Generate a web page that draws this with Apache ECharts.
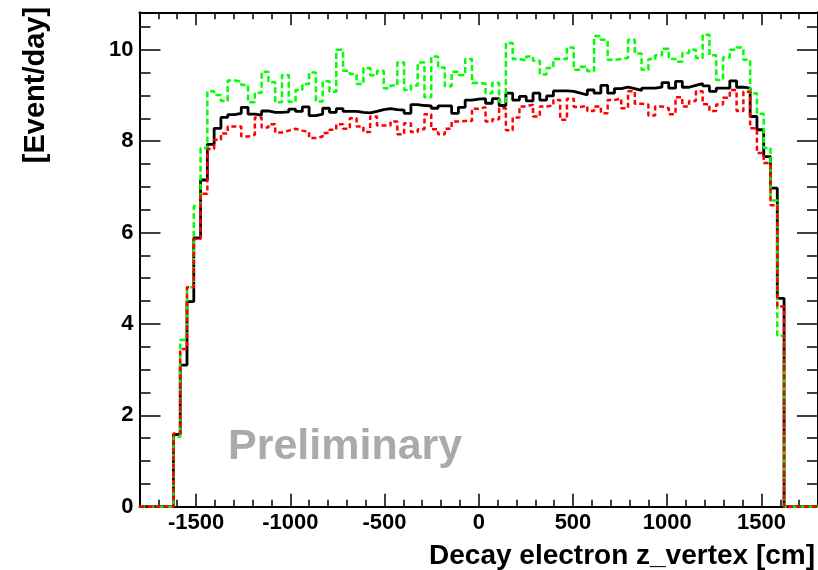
<!DOCTYPE html>
<html>
<head>
<meta charset="utf-8">
<script src="https://cdn.jsdelivr.net/npm/echarts@6/dist/echarts.min.js"></script>
<style>
html,body{margin:0;padding:0;background:#fff;}
#chart{width:818px;height:570px;}
</style>
</head>
<body>
<div id="chart"></div>
<script>
// ---- histogram binning (100 bins of 36 cm from -1800 to 1800) ----
const X_MIN = -1800;
const X_MAX = 1800;
const BIN_WIDTH = 36;
const Y_MIN = 0;
const Y_MAX = 10.82;

// ---- tick labels ----
const X_TICK_LABELS = [-1500, -1000, -500, 0, 500, 1000, 1500];
const Y_TICK_LABELS = [0, 2, 4, 6, 8, 10];

// ---- series values (Event/day per bin) ----
const blackValues = [
  0,0,0,0,0,
  1.58,3.10,4.49,5.88,7.15,
  7.93,8.28,8.52,8.58,8.61,
  8.74,8.59,8.57,8.66,8.63,
  8.63,8.64,8.70,8.65,8.75,
  8.56,8.59,8.72,8.63,8.71,
  8.65,8.65,8.63,8.62,8.65,
  8.69,8.71,8.69,8.68,8.61,
  8.80,8.78,8.77,8.72,8.77,
  8.77,8.61,8.74,8.90,8.92,
  8.93,8.83,8.93,8.78,9.05,
  8.90,8.98,8.88,9.05,8.90,
  8.99,9.10,9.10,9.09,9.05,
  9.01,9.12,9.05,9.22,9.05,
  9.15,9.18,9.15,9.11,9.16,
  9.16,9.18,9.28,9.16,9.31,
  9.18,9.22,9.26,9.21,9.09,
  9.16,9.16,9.32,9.18,9.16,
  8.54,8.25,7.66,6.97,4.56,
  0,0,0,0,0
];
const redValues = [
  0,0,0,0,0,
  1.60,3.45,4.80,5.86,6.85,
  7.83,8.03,8.17,8.32,8.32,
  8.10,8.14,8.52,8.30,8.37,
  8.19,8.23,8.27,8.23,8.20,
  8.07,8.10,8.18,8.25,8.37,
  8.27,8.50,8.32,8.20,8.54,
  8.34,8.34,8.43,8.15,8.39,
  8.20,8.26,8.59,8.26,8.15,
  8.27,8.43,8.44,8.44,8.71,
  8.74,8.43,8.48,8.72,8.24,
  8.52,8.76,8.80,8.54,8.76,
  8.78,8.90,8.47,8.93,8.75,
  8.77,8.66,8.76,8.61,8.90,
  8.93,8.72,9.09,8.82,8.80,
  8.56,8.76,8.72,8.59,8.96,
  8.76,8.88,9.09,8.81,8.66,
  8.80,8.95,9.12,8.66,9.08,
  8.28,7.74,7.52,6.60,4.38,
  0,0,0,0,0
];
const greenValues = [
  0,0,0,0,0,
  1.53,3.65,4.80,6.58,7.85,
  9.09,9.01,8.88,9.33,9.30,
  9.23,8.85,9.06,9.52,9.29,
  8.85,9.45,8.86,9.12,9.25,
  9.50,8.87,9.31,9.08,10.00,
  9.54,9.47,9.25,9.60,9.44,
  9.54,9.16,9.22,9.72,9.12,
  9.22,9.72,8.96,9.85,9.61,
  9.20,9.52,9.45,9.80,9.27,
  9.26,9.05,9.28,8.86,10.15,
  9.80,9.76,9.85,9.76,9.46,
  9.60,9.80,9.80,10.05,9.56,
  9.63,9.53,10.30,10.22,9.78,
  9.80,9.82,10.22,9.92,9.56,
  9.80,9.88,10.02,9.80,9.74,
  9.93,10.00,9.82,10.33,9.88,
  9.34,9.83,10.00,10.05,9.78,
  9.05,8.60,7.85,6.70,3.74,
  0,0,0,0,0
];

// build step points: [lowEdge, value] per bin, plus closing point at X_MAX
function histPoints(values) {
  const pts = values.map((v, i) => [X_MIN + i * BIN_WIDTH, v]);
  pts.push([X_MIN + values.length * BIN_WIDTH, values[values.length - 1]]);
  return pts;
}

const FONT = '"Liberation Sans", Arial, Helvetica, sans-serif';
const AX = { color: '#000', width: 2 };
const plain = v => String(v);

function xAxisDef(pos, major, showLabels) {
  const a = {
    type: 'value', position: pos, min: X_MIN, max: X_MAX,
    axisLine: { show: major, onZero: false, lineStyle: AX },
    splitLine: { show: false },
    axisTick: { show: true, inside: true, length: major ? 13 : 7,
      lineStyle: { color: '#000', width: 1.5 } },
    axisLabel: { show: false }
  };
  if (major) {
    a.axisTick.customValues = X_TICK_LABELS;
    a.axisLabel = { show: showLabels, customValues: X_TICK_LABELS, margin: 5,
      formatter: plain,
      color: '#000', fontFamily: FONT, fontWeight: 'bold', fontSize: 22 };
  } else {
    a.interval = 100;
  }
  return a;
}
function yAxisDef(pos, major, showLabels) {
  const a = {
    type: 'value', position: pos, min: Y_MIN, max: Y_MAX,
    axisLine: { show: major, onZero: false, lineStyle: AX },
    splitLine: { show: false },
    axisTick: { show: true, inside: true, length: major ? 21 : 11,
      lineStyle: { color: '#000', width: 1.5 } },
    axisLabel: { show: false }
  };
  if (major) {
    a.axisTick.customValues = Y_TICK_LABELS;
    a.axisLabel = { show: showLabels, customValues: Y_TICK_LABELS, margin: 6,
      formatter: plain,
      color: '#000', fontFamily: FONT, fontWeight: 'bold', fontSize: 22 };
  } else {
    a.interval = 0.5;
  }
  return a;
}

const chart = echarts.init(document.getElementById('chart'), null, { renderer: 'canvas' });
chart.setOption({
  animation: false,
  backgroundColor: '#fff',
  grid: { left: 139.5, top: 12.3, width: 680.5, height: 494.4, containLabel: false },
  xAxis: [
    xAxisDef('bottom', true, true),
    xAxisDef('bottom', false, false),
    xAxisDef('top', true, false),
    xAxisDef('top', false, false)
  ],
  yAxis: [
    yAxisDef('left', true, true),
    yAxisDef('left', false, false),
    yAxisDef('right', true, false),
    yAxisDef('right', false, false)
  ],
  graphic: [
    { type: 'text', x: 815, y: 556,
      style: { text: 'Decay electron z_vertex [cm]', fill: '#000',
        font: 'bold 28px ' + FONT, textAlign: 'right', textVerticalAlign: 'middle' } },
    { type: 'text', x: 36, y: 85, rotation: Math.PI / 2,
      style: { text: '[Event/day]', fill: '#000',
        font: 'bold 29px ' + FONT, textAlign: 'center', textVerticalAlign: 'middle' } },
    { type: 'text', x: 228, y: 447, z: 10,
      style: { text: 'Preliminary', fill: '#aaaaaa',
        font: 'bold 43px ' + FONT, textAlign: 'left', textVerticalAlign: 'middle' } }
  ],
  series: [
    { name: 'total', type: 'line', step: 'end', showSymbol: false, symbol: 'none',
      xAxisIndex: 0, yAxisIndex: 0, data: histPoints(blackValues),
      lineStyle: { color: '#000000', width: 2.8 }, z: 3 },
    { name: 'green', type: 'line', step: 'end', showSymbol: false, symbol: 'none',
      xAxisIndex: 0, yAxisIndex: 0, data: histPoints(greenValues),
      lineStyle: { color: '#00ff00', width: 2.5, type: [6, 3] }, z: 4 },
    { name: 'red', type: 'line', step: 'end', showSymbol: false, symbol: 'none',
      xAxisIndex: 0, yAxisIndex: 0, data: histPoints(redValues),
      lineStyle: { color: '#ff0000', width: 2.5, type: [5, 3] }, z: 5 }
  ]
});
</script>
</body>
</html>
